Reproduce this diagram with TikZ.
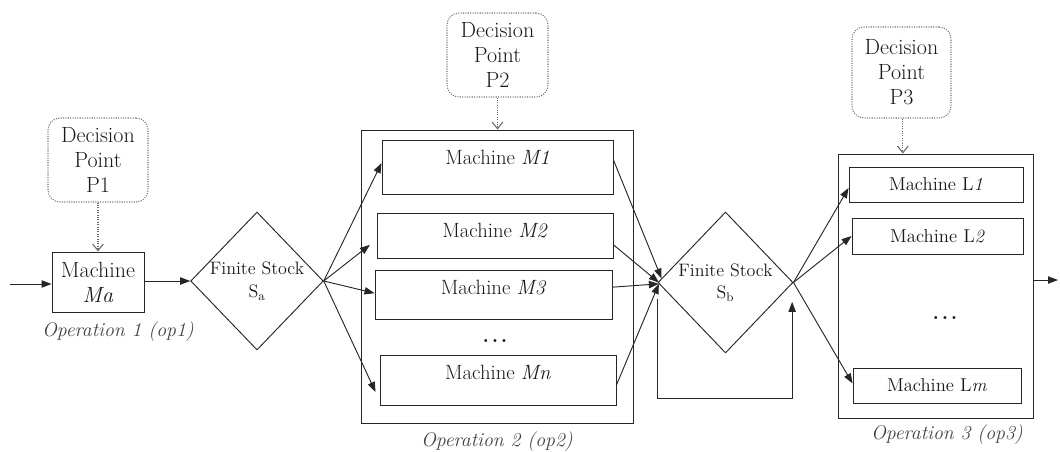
\documentclass[tikz,border=0pt]{standalone}
\usepackage{fontspec}
\usetikzlibrary{shapes.geometric,arrows.meta,calc}
\tikzset{
  mbox/.style={draw=black!85, line width=0.7pt, inner sep=0pt, text=black!90},
  dpbox/.style={draw=black!55, densely dotted, line width=0.8pt, rounded corners=9pt, align=center, inner sep=0pt, text=black!90, font=\fontsize{16.5}{18.75}\selectfont},
  stock/.style={diamond, draw=black!85, line width=0.7pt, inner sep=0pt, align=center, text=black!90, font=\fontsize{13.5}{17}\selectfont},
  arr/.style={draw=black!85, line width=0.7pt, -{Triangle[length=7.5pt,width=5.5pt]}},
  darr/.style={draw=black!60, densely dotted, line width=0.8pt, -{Straight Barb[length=5pt,width=8pt,line width=0.8pt]}},
  mlab/.style={font=\fontsize{15.5}{18}\selectfont, text=black!90, inner sep=0pt},
  llab/.style={font=\fontsize{14}{17}\selectfont, text=black!90, inner sep=0pt},
  oplab/.style={font=\fontsize{14.8}{17}\selectfont\itshape, text=black!75, inner sep=0pt},
}
\begin{document}
\begin{tikzpicture}[x=0.75pt,y=-0.75pt]
\useasboundingbox (0,0) rectangle (1060,451);

% Operation 1
\node[dpbox, minimum width=75pt, minimum height=63pt] (p1) at (98,160) {Decision\\Point\\P1};
\node[mbox, align=center, minimum width=69pt, minimum height=45pt, font=\fontsize{16.5}{18.75}\selectfont] (ma) at (98,282) {Machine\\\textit{Ma}};
\node[oplab] (op1) at (118,332) {Operation 1 (op1)};
\coordinate (in) at (10,284);
\node[stock, minimum width=97.5pt, minimum height=103.5pt] (sa) at (257,281) {Finite Stock\\S\textsubscript{a}};

% Operation 2
\node[dpbox, minimum width=75.75pt, minimum height=63pt] (p2) at (497.5,55) {Decision\\Point\\P2};
\node[mbox, minimum width=204pt, minimum height=219.75pt] (op2) at (497,276.5) {};
\node[mbox, minimum width=173.25pt, minimum height=40.5pt, label={[mlab, yshift=7.5pt]center:Machine \textit{M1}}] (m1) at (497.5,167) {};
\node[mbox, minimum width=177pt, minimum height=33.75pt, label={[mlab, yshift=4pt]center:Machine \textit{M2}}] (m2) at (495,235.5) {};
\node[mbox, minimum width=177.75pt, minimum height=36.75pt, label={[mlab, yshift=5.5pt]center:Machine \textit{M3}}] (m3) at (493.5,294.5) {};
\node[mlab] (mdots) at (495,341) {\textbf{.\kern2pt.\kern2pt.}};
\node[mbox, minimum width=177pt, minimum height=37.5pt, label={[mlab, yshift=6pt]center:Machine \textit{Mn}}] (mn) at (498,380) {};
\node[oplab] (op2l) at (497,442) {Operation 2 (op2)};

% Stock b
\node[stock, minimum width=101.25pt, minimum height=105.75pt] (sb) at (725.5,282.5) {Finite Stock\\S\textsubscript{b}};

% Operation 3
\node[dpbox, minimum width=74.25pt, minimum height=68.25pt] (p3) at (901.5,72.5) {Decision\\Point\\P3};
\node[mbox, minimum width=146.25pt, minimum height=198pt] (op3) at (935.5,286) {};
\node[mbox, llab, minimum width=130.5pt, minimum height=26.25pt] (l1) at (936,184.5) {Machine L\textit{1}};
\node[mbox, llab, minimum width=128.25pt, minimum height=27pt] (l2) at (937.5,236) {Machine L\textit{2}};
\node[mlab] (ldots) at (945,318) {\textbf{.\kern2pt.\kern2pt.}};
\node[mbox, llab, minimum width=126pt, minimum height=26.25pt] (lm) at (937,385.5) {Machine L\textit{m}};
\node[oplab] (op3l) at (947,435) {Operation 3 (op3)};
\coordinate (out) at (1058,280);

% decision arrows
\draw[darr] (p1.south) -- (ma.north);
\draw[darr] (p2.south) -- (p2.south |- op2.north);
\draw[darr] ([xshift=1pt]p3.south) -- ([xshift=1pt]p3.south |- op3.north);

% flow arrows
\draw[arr] (in) -- (in -| ma.west);
\draw[arr] (ma.east |- sa.west) -- (sa.west);
\draw[arr] (sa.east) -- ([yshift=3pt]m1.west);
\draw[arr] (sa.east) -- ([xshift=-5pt,yshift=-7pt]m2.west);
\draw[arr] (sa.east) -- ([yshift=1pt]m3.west);
\draw[arr] (sa.east) -- ([xshift=-3pt,yshift=-9pt]mn.west);

\draw[arr] ([yshift=5.25pt]m1.east) -- ([xshift=3pt,yshift=3pt]sb.west);
\draw[arr] ([yshift=-7pt]m2.east) -- ([xshift=1pt]sb.west);
\draw[arr] ([yshift=5.5pt]m3.east) -- ([xshift=1pt,yshift=-1pt]sb.west);
\draw[arr] ([yshift=-3.75pt]mn.east) -- ([xshift=1pt,yshift=-1pt]sb.west);
\draw[arr] ([yshift=-12pt]sb.west) -- ++(0,-75pt) -| ([xshift=-1pt,yshift=-14.5pt]sb.east);

\draw[arr] (sb.east) -- ([yshift=-2.6pt]l1.west);
\draw[arr] (sb.east) -- (l2.west);
\draw[arr] (sb.east) -- ([yshift=1.5pt]lm.west);
\draw[arr] ([yshift=4.5pt]op3.east) -- (out);
\end{tikzpicture}
\end{document}
